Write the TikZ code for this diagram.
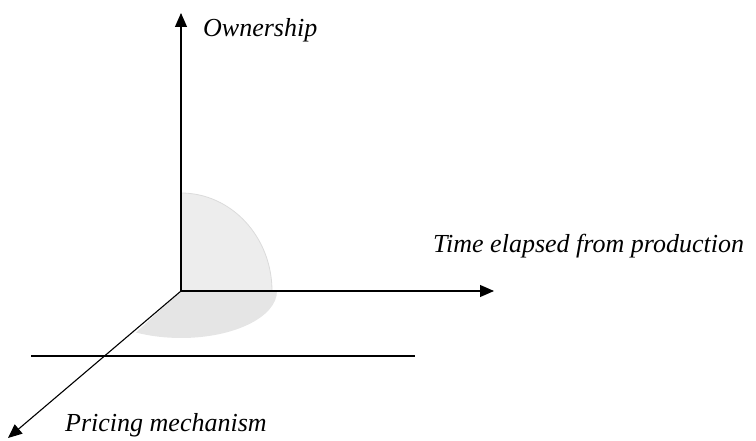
\documentclass[tikz,border=0pt]{standalone}
\usepackage{fontspec}
\setmainfont{Liberation Serif}
\usetikzlibrary{arrows.meta}
\tikzset{
  axis/.style={line width=1.1pt, -{Triangle[length=14pt,width=12pt]}},
  lbl/.style={anchor=base west, inner sep=0pt, font=\fontsize{26}{30}\selectfont\itshape},
}
\begin{document}
\begin{tikzpicture}[x=1pt,y=-1pt]
\useasboundingbox (0,0) rectangle (756,441);
\coordinate (O) at (181,291);
\coordinate (Ytip) at (181,13);
\coordinate (Xtip) at (494,291);
\coordinate (Ztip) at (8,438);
\coordinate (L1) at (31,356);
\coordinate (L2) at (415,356);
% shaded volume
\fill[black!7] (O) -- (181,193) arc[start angle=270, end angle=360, x radius=91, y radius=98] -- cycle;
\draw[black!14, line width=0.8pt] (181,193) arc[start angle=270, end angle=360, x radius=91, y radius=98];
\fill[black!10] (O) -- (277,291) arc[start angle=0, end angle=-118, x radius=96, y radius=-47] -- cycle;
% axes
\draw[axis] (O) -- (Ytip);
\draw[axis] (O) -- (Xtip);
\draw[axis] (O) -- (Ztip);
\draw[line width=1.4pt] (L1) -- (L2);
% labels
\node[lbl] (own) at (203,37) {Ownership};
\node[lbl] (time) at (433,253) {Time elapsed from production};
\node[lbl] (price) at (65,431) {Pricing mechanism};
\end{tikzpicture}
\end{document}
